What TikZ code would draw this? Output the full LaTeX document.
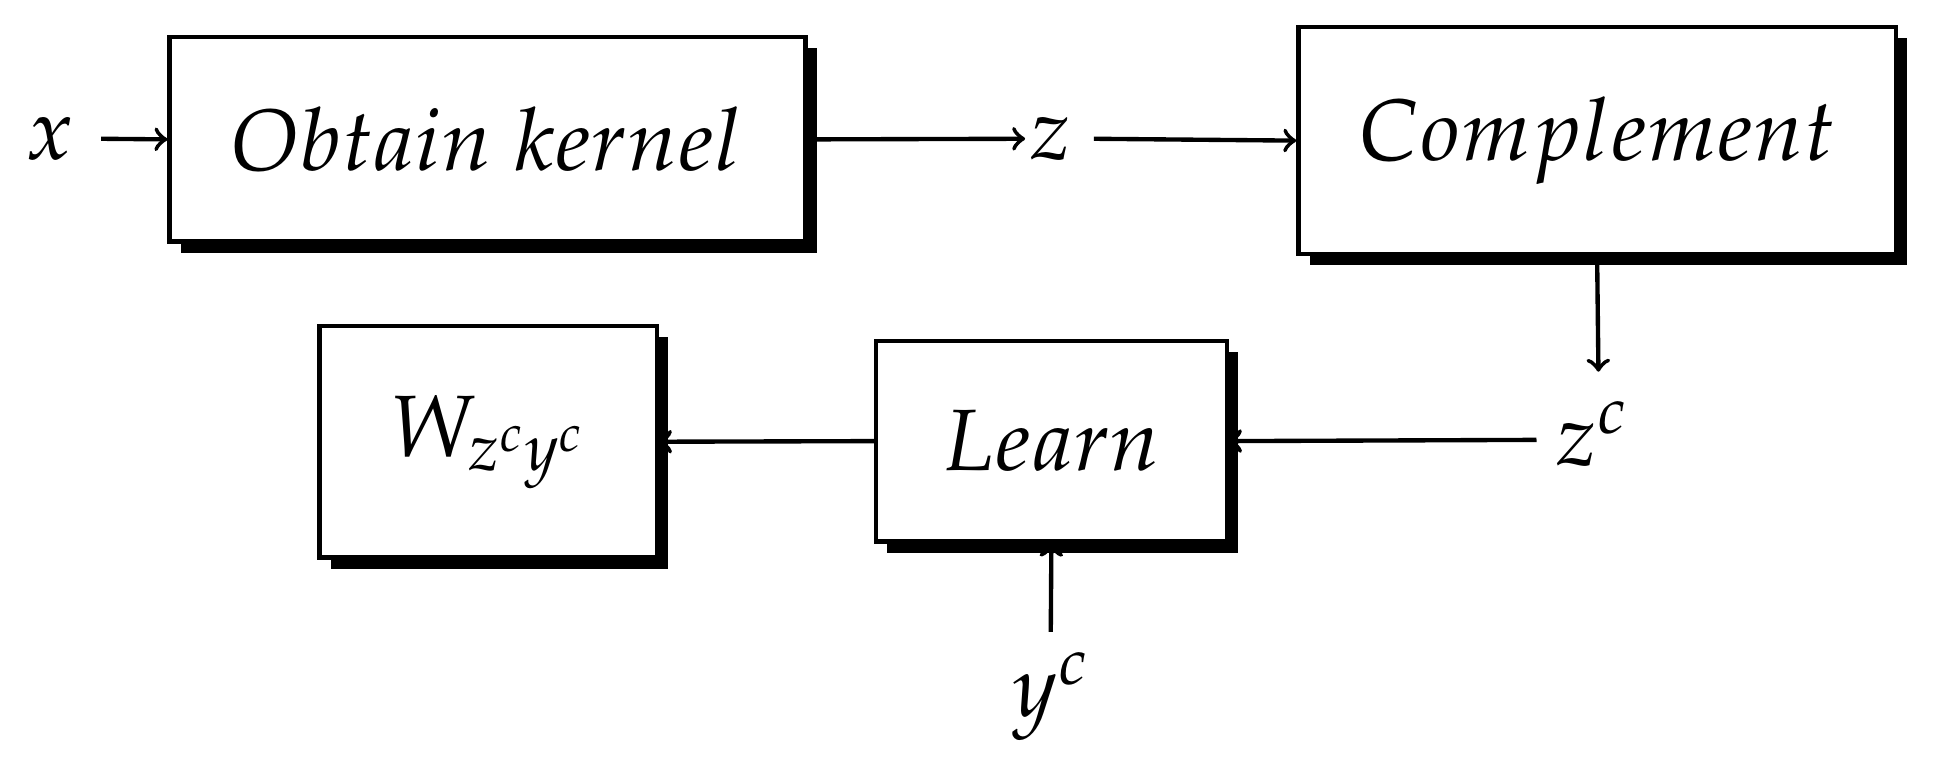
\documentclass[tikz,border=0pt]{standalone}
\usepackage[T1]{fontenc}
\usepackage{mathpazo}
\usetikzlibrary{shadows}
\begin{document}
\begin{tikzpicture}[x=0.01cm,y=-0.01cm,
  box/.style={draw,line width=1pt,fill=white,inner sep=0pt,
    drop shadow={shadow xshift=0.09cm,shadow yshift=-0.09cm,fill=black,opacity=1}},
  lbl/.style={inner sep=1pt,font=\fontsize{20}{24}\selectfont},
  arr/.style={->,line width=1pt},
  every node/.style={font=\fontsize{20}{24}\selectfont}]
\useasboundingbox (0,0) rectangle (1560,616);
\node[box,minimum width=5.13cm,minimum height=1.65cm] (ok) at (393.5,112.5) {$Obtain\ kernel$};
\node[box,minimum width=4.82cm,minimum height=1.83cm] (co) at (1289,113.5) {$Complement$};
\node[box,minimum width=2.83cm,minimum height=1.62cm] (le) at (848.5,356) {$Learn$};
\node[box,minimum width=2.72cm,minimum height=1.87cm] (w) at (394,356.5) {$W_{z^cy^c}$};
\node[lbl] (x) at (40,112) {$x$};
\node[lbl] (z) at (848,112) {$z$};
\node[lbl] (zc) at (1285,350) {$z^c$};
\node[lbl] (yc) at (848,562) {$y^c$};
\draw[arr] (x.east) ++(18,0) coordinate (xs) -- (ok.west);
\draw[arr] (ok.east) -- (z.west);
\draw[arr] (z.east) ++(14,0) -- (co.west);
\draw[arr] (co.south) ++(0,6) -- (1290,300);
\draw[arr] (1240,355) coordinate (zl) -- (le.east);
\draw[arr] (848,510) coordinate (yt) -- (le.south);
\draw[arr] (le.west) -- (w.east);
\end{tikzpicture}
\end{document}
